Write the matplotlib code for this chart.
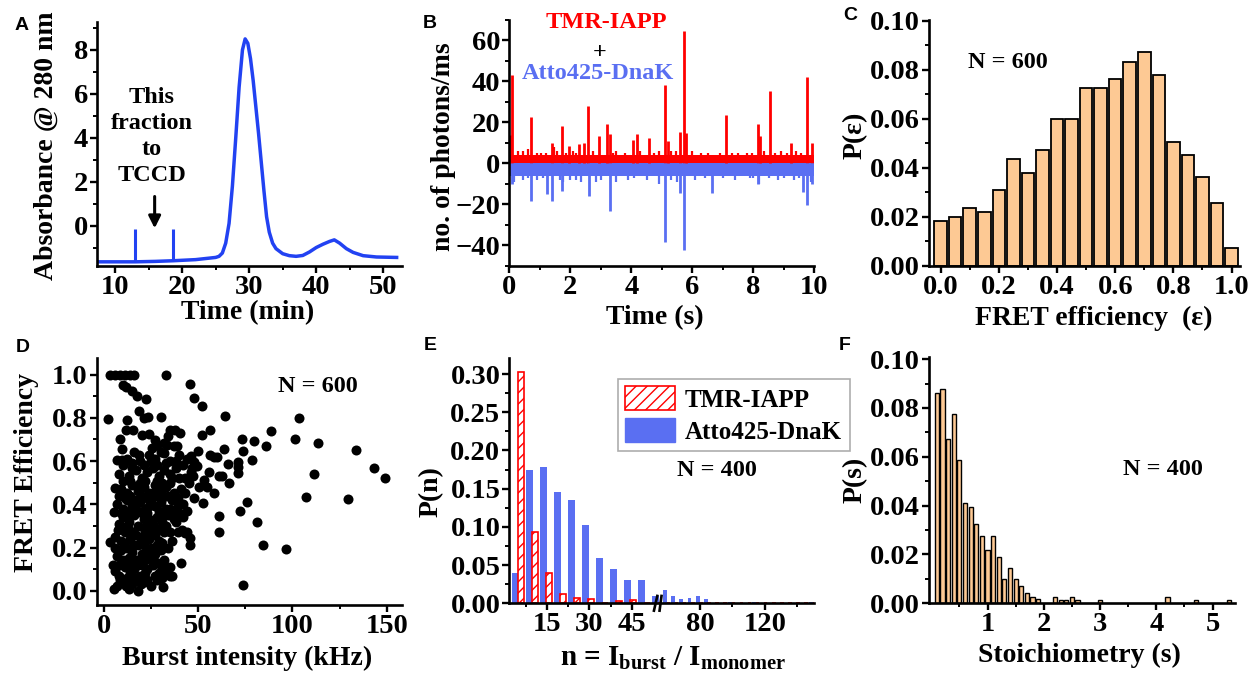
import numpy as np
import matplotlib
matplotlib.use('Agg')
import matplotlib.pyplot as plt
from matplotlib.ticker import MultipleLocator, FixedLocator
from matplotlib.patches import Patch

plt.rcParams['font.family'] = 'Liberation Serif'
plt.rcParams['font.weight'] = 'bold'
plt.rcParams['mathtext.fontset'] = 'custom'
plt.rcParams['mathtext.rm'] = 'Liberation Serif:bold'
plt.rcParams['mathtext.it'] = 'Liberation Serif:bold'
plt.rcParams['hatch.linewidth'] = 1.0

W, H = 1248, 678
BLUE_A = '#2242f2'
BLUE = '#5a6ff2'
PEACH = '#fdc994'

# ---- A: size exclusion chromatogram
sec_time = [7.5, 10, 13, 16, 18.7, 22, 25, 25.5, 26, 26.5, 27, 27.5, 28, 28.5, 29, 29.4,
            29.8, 30.2, 30.6, 31, 31.4, 31.8, 32.2, 32.6, 33, 33.5, 34, 35, 36, 37, 38,
            39, 40, 41, 42, 42.7, 43.5, 44.5, 45.5, 47, 49, 52]
sec_abs = [-1.65, -1.65, -1.65, -1.63, -1.6, -1.55, -1.45, -1.4, -1.25, -0.8, 0.1, 1.8, 4.0,
           6.3, 8.0, 8.5, 8.3, 7.6, 6.6, 5.4, 4.2, 2.9, 1.6, 0.4, -0.3, -0.8, -1.05, -1.28,
           -1.37, -1.4, -1.36, -1.2, -1.0, -0.85, -0.72, -0.65, -0.8, -1.05, -1.22, -1.37,
           -1.43, -1.45]
fraction_marks = [13.0, 18.7]
fraction_top = -0.15

# ---- B: photon bursts (big spikes + smaller noise spikes)
tmr_t = [0.09, 0.05, 0.71, 1.39, 1.72, 1.97, 2.30, 2.46, 2.59, 2.95, 3.20, 3.31, 4.04, 4.19,
         4.58, 5.11, 5.19, 5.59, 5.72, 5.80, 7.09, 8.14, 8.22, 8.54, 9.25, 9.76, 9.91]
tmr_n = [43, 14, 22.4, 10, 18.3, 8.5, 9.5, 10, 28, 13.4, 19.3, 14.2, 11.3, 14.2,
         12.3, 38.2, 11, 15.2, 64.4, 15, 23.4, 19.3, 13.4, 35.3, 10, 42.2, 10]
tmr_small_t = [0.3, 0.45, 0.6, 0.9, 1.05, 1.2, 1.45, 1.55, 1.85, 2.1, 2.2, 2.75, 3.4, 3.5, 3.8,
               4.3, 4.75, 4.9, 5.3, 5.45, 6.0, 6.3, 6.5, 6.9, 7.3, 7.5, 7.8, 7.95, 8.35, 8.7,
               8.9, 9.1, 9.4, 9.55]
tmr_small_n = [6, 6, 7, 5, 5, 5, 8, 6, 5, 6, 5, 6, 5, 6, 5, 6, 5, 6, 6, 6, 6, 5, 5, 5, 5, 5,
               5, 5, 6, 5, 6, 5, 6, 5]
atto_t = [0.09, 0.71, 1.23, 1.39, 1.72, 2.60, 3.31, 5.11, 5.59, 5.72, 6.66, 8.14, 9.64, 9.76, 9.91]
atto_n = [-10, -18.4, -15, -18.4, -13.5, -16, -23.3, -38.5, -14.3, -42.3, -14.6, -10, -13.8,
          -20.3, -10]
atto_small_t = [0.15, 0.45, 0.6, 0.9, 1.1, 1.65, 1.75, 2.0, 2.2, 2.35, 2.85, 3.0, 3.5, 3.9, 4.1,
                4.5, 4.9, 5.3, 5.5, 6.1, 6.4, 7.0, 7.4, 7.9, 8.0, 8.2, 8.5, 8.8, 9.0, 9.35,
                9.5, 9.9]
atto_small_n = [-9, -8, -7, -8, -7, -8, -9, -8, -8, -9, -9, -8, -9, -8, -7, -8, -10, -8, -9, -8,
                -7, -7, -8, -7, -7, -10, -7, -8, -7, -8, -7, -9]
band_t = [0, 10]
tmr_band = 4
atto_band = -6

# ---- C: FRET efficiency histogram
eff_bins = [0.00, 0.05, 0.10, 0.15, 0.20, 0.25, 0.30, 0.35, 0.40, 0.45, 0.50,
            0.55, 0.60, 0.65, 0.70, 0.75, 0.80, 0.85, 0.90, 0.95, 1.00]
p_eff = [0.0182, 0.0199, 0.0235, 0.0218, 0.0308, 0.0434, 0.0380, 0.0471, 0.0598, 0.0598,
         0.0725, 0.0725, 0.0763, 0.0833, 0.0871, 0.0777, 0.0507, 0.0453, 0.0362, 0.0255,
         0.0073]

# ---- D: FRET efficiency vs burst intensity (kHz, E)
burst_points = [
    (2.3, 0.795), (3.2, 1.0), (5.9, 1.0), (8.5, 1.0), (11.2, 1.0), (13.8, 1.0), (16.1, 1.0),
    (32.8, 1.0), (45.4, 0.958), (48.0, 0.892), (51.9, 0.856), (64.2, 0.81), (30.3, 0.802),
    (22.2, 0.889), (17.4, 0.9), (10.0, 0.954), (11.7, 0.943), (14.7, 0.923), (18.8, 0.833),
    (21.3, 0.80), (23.2, 0.804), (8.5, 0.70), (9.4, 0.657), (12.1, 0.79), (11.5, 0.745),
    (15.6, 0.745), (20.0, 0.719), (23.9, 0.726), (7.1, 0.606), (9.6, 0.606), (14.7, 0.59),
    (18.3, 0.63), (5.9, 0.475), (5.3, 0.366), (3.2, 0.224), (5.5, 0.008), (31.2, 0.015),
    (73.8, 0.026), (41.0, 0.127), (34.8, 0.07), (32.4, 0.111), (45.4, 0.212), (60.8, 0.274),
    (61.2, 0.346), (45.4, 0.243), (72.0, 0.369), (75.9, 0.41), (81.2, 0.317), (84.4, 0.212),
    (96.8, 0.192), (107.3, 0.436), (129.6, 0.423), (111.3, 0.541), (143.3, 0.57),
    (148.9, 0.524), (134.0, 0.652), (113.5, 0.683), (101.2, 0.702), (103.5, 0.80),
    (88.8, 0.74), (86.0, 0.668), (79.8, 0.694), (78.5, 0.606), (73.8, 0.648), (73.2, 0.703),
    (71.1, 0.598), (70.9, 0.547), (71.3, 0.572), (66.1, 0.498), (63.8, 0.658), (65.8, 0.587),
    (58.2, 0.451), (52.5, 0.405), (61.2, 0.529), (62.6, 0.529), (56.0, 0.629), (58.2, 0.621),
    (59.9, 0.617), (52.8, 0.513), (50.5, 0.478), (47.2, 0.529), (47.5, 0.428), (54.6, 0.482),
    (55.5, 0.549), (52.0, 0.722), (56.4, 0.742), (49.8, 0.648), (46.3, 0.624), (47.5, 0.598),
    (49.3, 0.575), (46.6, 0.567), (40.4, 0.73), (37.8, 0.745), (35.1, 0.745), (34.2, 0.714),
    (36.9, 0.668), (38.7, 0.668), (33.3, 0.675), (31.6, 0.683), (28.0, 0.675), (26.8, 0.698),
    (25.4, 0.66), (31.6, 0.637),
    (7, 0.02), (10, 0.04), (13, 0.01), (15, 0.03), (18, 0.0), (21, 0.04), (25, 0.02), (28, 0.05),
    (6, 0.09), (8, 0.07), (11, 0.11), (14, 0.08), (16, 0.10), (19, 0.07), (23, 0.10), (26, 0.12),
    (29, 0.08), (33, 0.09), (36, 0.07), (7, 0.16), (9, 0.19), (13, 0.15), (15, 0.18), (17, 0.14),
    (20, 0.17), (24, 0.15), (25, 0.20), (27, 0.17), (30, 0.19), (6, 0.25), (9, 0.23), (11, 0.27),
    (14, 0.24), (17, 0.26), (19, 0.22), (22, 0.27), (24, 0.24), (27, 0.26), (29, 0.23), (32, 0.27),
    (8, 0.31), (10, 0.34), (13, 0.32), (16, 0.35), (18, 0.30), (21, 0.33), (23, 0.36), (26, 0.31),
    (28, 0.34), (31, 0.32), (34, 0.35), (37, 0.33), (40, 0.36), (7, 0.40), (10, 0.38), (12, 0.42),
    (15, 0.39), (19, 0.41), (22, 0.38), (25, 0.42), (27, 0.39), (30, 0.41), (33, 0.38), (36, 0.42),
    (39, 0.39), (42, 0.40), (44, 0.37), (9, 0.47), (12, 0.45), (15, 0.49), (18, 0.46), (21, 0.48),
    (24, 0.45), (27, 0.49), (30, 0.46), (33, 0.48), (37, 0.45), (41, 0.47), (45, 0.50), (8, 0.54),
    (13, 0.53), (17, 0.56), (20, 0.52), (23, 0.55), (26, 0.57), (29, 0.53), (32, 0.56), (35, 0.54),
    (38, 0.57), (43, 0.52), (46, 0.55), (12, 0.61), (16, 0.64), (19, 0.60), (24, 0.63), (27, 0.61),
    (30, 0.64), (35, 0.60), (40, 0.63), (44, 0.61), (5, 0.12), (12, 0.06), (17, 0.05), (20, 0.12),
    (22, 0.08), (9, 0.30), (12, 0.20), (18, 0.21), (21, 0.29), (24, 0.33), (28, 0.28), (30, 0.12),
    (26, 0.45), (35, 0.50), (39, 0.27), (41.3, 0.28), (43.1, 0.266), (38, 0.32), (36, 0.23),
    (44, 0.27),
    (8.5, 0.05), (11.5, 0.02), (16.5, 0.06), (19.5, 0.03), (23, 0.05), (27, 0.07), (30.5, 0.06),
    (8, 0.12), (10, 0.14), (14.5, 0.12), (18, 0.12), (21.5, 0.14), (26, 0.15), (28.5, 0.13),
    (32, 0.14), (35, 0.11), (6, 0.20), (10.5, 0.22), (16, 0.21), (21, 0.21), (23, 0.19),
    (28, 0.21), (31, 0.22), (34, 0.20), (7.5, 0.28), (12.5, 0.29), (15, 0.27), (20, 0.25),
    (23, 0.30), (26, 0.27), (30, 0.29), (33, 0.30), (35, 0.27), (9, 0.36), (11.5, 0.35),
    (14, 0.37), (17, 0.38), (20, 0.36), (24, 0.39), (29, 0.37), (32, 0.35), (35, 0.38),
    (38, 0.37), (42, 0.34), (8, 0.44), (11, 0.43), (14, 0.44), (17, 0.42), (20, 0.44),
    (23, 0.43), (28, 0.44), (31, 0.43), (34, 0.44), (39, 0.43), (43, 0.45), (10, 0.51),
    (14, 0.51), (19, 0.50), (22, 0.51), (28, 0.51), (31, 0.50), (36, 0.52), (40, 0.52),
    (10, 0.58), (15, 0.57), (21, 0.58), (25, 0.60), (28, 0.58), (33, 0.59), (38, 0.60),
    (42, 0.58),
]

# ---- E: oligomer size distribution
n_bins = [5, 10, 15, 20, 25, 30, 35, 40, 45, 50, 55, 60, 65, 70, 75, 80, 85, 90, 95, 100,
          105, 110, 115, 120, 125, 130, 135, 140, 145, 150]
p_tmr = [0.303, 0.093, 0.039, 0.012, 0.007, 0.006, 0, 0.003, 0.004, 0, 0, 0, 0, 0, 0, 0.001,
         0, 0, 0, 0, 0, 0, 0, 0, 0, 0, 0, 0, 0, 0]
p_atto = [0.039, 0.175, 0.179, 0.146, 0.135, 0.103, 0.059, 0.045, 0.031, 0.031, 0.010, 0.017,
          0.010, 0.005, 0.007, 0.010, 0.005, 0, 0, 0.002, 0, 0, 0.002, 0, 0, 0, 0, 0, 0, 0.002]
n_break = 55
right_squeeze = 0.578

# ---- F: stoichiometry histogram
stoich = [0.1, 0.2, 0.3, 0.4, 0.5, 0.6, 0.7, 0.8, 0.9, 1.0, 1.1, 1.2, 1.3, 1.4, 1.5, 1.6, 1.7,
          1.8, 1.9, 2.2, 2.3, 2.4, 2.5, 2.6, 3.0, 4.2, 4.7, 5.3]
p_stoich = [0.0862, 0.0878, 0.0673, 0.0777, 0.0588, 0.0410, 0.0396, 0.0324, 0.0277, 0.0220,
            0.0277, 0.0189, 0.0101, 0.0146, 0.0101, 0.0072, 0.0043, 0.0027, 0.0016, 0.0027,
            0.0014, 0.0014, 0.0027, 0.0014, 0.0014, 0.0027, 0.0014, 0.0014]

LABEL = 20
TICK = 20.5
NOTE = 17.5


def box(l, t, r, b):
    return [l / W, 1 - b / H, (r - l) / W, (b - t) / H]


def ftext(x, y, s, **kw):
    fig.text(x / W, 1 - y / H, s, ha='center', va='center', **kw)


def style(ax):
    for s in ['top', 'right']:
        ax.spines[s].set_visible(False)
    for s in ['left', 'bottom']:
        ax.spines[s].set_linewidth(1.9)
    ax.tick_params(which='major', direction='out', length=5, width=1.7, labelsize=TICK, pad=1.5)
    ax.tick_params(which='minor', direction='out', length=3, width=1.4)


fig = plt.figure(figsize=(W / 100, H / 100), dpi=100)

# A
ax = fig.add_axes(box(97, 22, 402, 266))
style(ax)
ax.plot(sec_time, sec_abs, color=BLUE_A, lw=2.5, solid_joinstyle='round')
ax.vlines(fraction_marks, [-1.65, -1.6], fraction_top, color=BLUE_A, lw=2.2)
ax.annotate('', xy=(15.9, -0.25), xytext=(15.9, 1.45),
            arrowprops=dict(arrowstyle='-|>', color='black', lw=2.2, mutation_scale=18))
ax.text(15.5, 4.06, 'This\nfraction\nto\nTCCD', ha='center', va='center', fontsize=NOTE,
        linespacing=1.3)
ax.set_xlim(7.3, 52.8)
ax.set_ylim(-1.84, 9.27)
ax.xaxis.set_major_locator(MultipleLocator(10))
ax.xaxis.set_minor_locator(MultipleLocator(5))
ax.yaxis.set_major_locator(FixedLocator([0, 2, 4, 6, 8]))
ax.yaxis.set_minor_locator(FixedLocator([-1, 1, 3, 5, 7, 9]))

# B
ax = fig.add_axes(box(509.3, 20, 814.3, 265.7))
style(ax)
ax.fill_between(band_t, 0, tmr_band, color='red', lw=0)
ax.fill_between(band_t, atto_band, 0, color=BLUE, lw=0)
ax.vlines(tmr_small_t, 0, tmr_small_n, color='red', lw=1.6)
ax.vlines(atto_small_t, atto_small_n, 0, color=BLUE, lw=1.6)
ax.vlines(tmr_t, 0, tmr_n, color='red', lw=2.0)
ax.vlines(atto_t, atto_n, 0, color=BLUE, lw=2.0)
ax.set_xlim(0, 10)
ax.set_ylim(-50, 70)
ax.xaxis.set_major_locator(MultipleLocator(2))
ax.xaxis.set_minor_locator(MultipleLocator(1))
ax.yaxis.set_major_locator(FixedLocator([-40, -20, 0, 20, 40, 60]))
ax.yaxis.set_minor_locator(FixedLocator([-50, -30, -10, 10, 30, 50, 70]))
ax.text(0.319, 0.988, 'TMR-IAPP', transform=ax.transAxes, ha='center', va='center',
        color='red', fontsize=NOTE)
ax.text(0.297, 0.866, '+', transform=ax.transAxes, ha='center', va='center', fontsize=NOTE)
ax.text(0.291, 0.784, 'Atto425-DnaK', transform=ax.transAxes, ha='center', va='center',
        color=BLUE, fontsize=NOTE)

# C
ax = fig.add_axes(box(929, 20, 1240, 265.7))
style(ax)
ax.bar(eff_bins, p_eff, width=0.043, color=PEACH, edgecolor='black', lw=1.3)
ax.set_xlim(-0.04, 1.029)
ax.set_ylim(0, 0.1003)
ax.xaxis.set_major_locator(MultipleLocator(0.2))
ax.xaxis.set_minor_locator(MultipleLocator(0.1))
ax.yaxis.set_major_locator(MultipleLocator(0.02))
ax.yaxis.set_minor_locator(MultipleLocator(0.01))
ax.xaxis.set_major_formatter(lambda v, p: f'{v:.1f}')
ax.yaxis.set_major_formatter(lambda v, p: f'{v:.2f}')
ax.text(0.254, 0.825, 'N = 600', transform=ax.transAxes, ha='center', va='center', fontsize=NOTE)

# D
ax = fig.add_axes(box(96.7, 358, 401.7, 605))
style(ax)
bx, by = zip(*burst_points)
ax.scatter(bx, by, s=52, color='black', lw=0)
ax.set_xlim(-3.9, 158)
ax.set_ylim(-0.066, 1.077)
ax.xaxis.set_major_locator(MultipleLocator(50))
ax.xaxis.set_minor_locator(MultipleLocator(25))
ax.yaxis.set_major_locator(MultipleLocator(0.2))
ax.yaxis.set_minor_locator(MultipleLocator(0.1))
ax.yaxis.set_major_formatter(lambda v, p: f'{v:.1f}')
ax.text(0.726, 0.883, 'N = 600', transform=ax.transAxes, ha='center', va='center', fontsize=NOTE)

# E (broken x axis via piecewise scale)
def fwd(x):
    x = np.asarray(x, dtype=float)
    return np.where(x <= n_break, x, n_break + (x - n_break) * right_squeeze)


def inv(y):
    y = np.asarray(y, dtype=float)
    return np.where(y <= n_break, y, n_break + (y - n_break) / right_squeeze)


ax = fig.add_axes(box(509.3, 358, 814.3, 603.3))
style(ax)
ax.set_xscale('function', functions=(fwd, inv))
nb = np.array(n_bins, dtype=float)
ax.bar(nb - 1.5, p_atto, width=2.4, color=BLUE, lw=0)
ax.bar(nb + 0.5, p_tmr, width=2.2, facecolor='white', edgecolor='red', hatch='///', lw=1.2)
ax.set_xlim(1.4, 150.5)
ax.set_ylim(0, 0.321)
ax.xaxis.set_major_locator(FixedLocator([15, 30, 45, 80, 120]))
ax.xaxis.set_minor_locator(FixedLocator([7.5, 22.5, 37.5, 100, 140]))
ax.xaxis.set_major_formatter(lambda v, p: f'{v:.0f}')
ax.xaxis.set_minor_formatter(lambda v, p: '')
ax.yaxis.set_major_locator(MultipleLocator(0.05))
ax.yaxis.set_minor_locator(MultipleLocator(0.025))
ax.yaxis.set_major_formatter(lambda v, p: f'{v:.2f}')
tr = ax.get_xaxis_transform()
for xb in [53.6, 55.6]:
    ax.plot([xb - 0.6, xb + 0.6], [-0.03, 0.03], transform=tr, color='black', lw=1.9,
            clip_on=False)
leg = ax.legend(handles=[Patch(facecolor='white', edgecolor='red', hatch='///', lw=1.2),
                         Patch(facecolor=BLUE, edgecolor=BLUE)],
                labels=['TMR-IAPP', 'Atto425-DnaK'], loc='upper left',
                bbox_to_anchor=(0.355, 0.915), fontsize=18, frameon=True, fancybox=False,
                edgecolor='#999999', handlelength=2.0, handleheight=1.1, borderpad=0.3,
                labelspacing=0.25, handletextpad=0.4, borderaxespad=0)
leg.get_frame().set_linewidth(1.2)
ax.text(0.681, 0.543, 'N = 400', transform=ax.transAxes, ha='center', va='center', fontsize=NOTE)

# F
ax = fig.add_axes(box(929, 356.7, 1235, 603.3))
style(ax)
ax.bar(stoich, p_stoich, width=0.075, color=PEACH, edgecolor='black', lw=1.0)
ax.set_xlim(-0.04, 5.4)
ax.set_ylim(0, 0.101)
ax.xaxis.set_major_locator(FixedLocator([1, 2, 3, 4, 5]))
ax.xaxis.set_minor_locator(FixedLocator([0.5, 1.5, 2.5, 3.5, 4.5]))
ax.yaxis.set_major_locator(MultipleLocator(0.02))
ax.yaxis.set_minor_locator(MultipleLocator(0.01))
ax.yaxis.set_major_formatter(lambda v, p: f'{v:.2f}')
ax.text(0.765, 0.543, 'N = 400', transform=ax.transAxes, ha='center', va='center', fontsize=NOTE)

# axis labels
ftext(46, 146, 'Absorbance @ 280 nm', rotation=90, fontsize=LABEL)
ftext(248, 313, 'Time (min)', fontsize=LABEL)
ftext(444, 147, 'no. of photons/ms', rotation=90, fontsize=LABEL)
ftext(655, 318, 'Time (s)', fontsize=LABEL)
ftext(855, 135, 'P(ε)', rotation=90, fontsize=LABEL)
ftext(1094, 318, 'FRET efficiency  (ε)', fontsize=LABEL)
ftext(27, 473, 'FRET Efficiency', rotation=90, fontsize=LABEL)
ftext(247, 658, 'Burst intensity (kHz)', fontsize=LABEL)
ftext(431, 492, 'P(n)', rotation=90, fontsize=LABEL)
ftext(673, 658, r'n = I$_{\mathrm{burst}}$ / I$_{\mathrm{monomer}}$', fontsize=LABEL + 1)
ftext(855, 480, 'P(s)', rotation=90, fontsize=LABEL)
ftext(1079, 655, 'Stoichiometry (s)', fontsize=LABEL)

# panel letters
for lx, ly, lt in [(22, 25, 'A'), (430, 23, 'B'), (850, 16, 'C'),
                   (23, 347, 'D'), (430, 345, 'E'), (845, 345, 'F')]:
    ftext(lx, ly, lt, fontsize=14, family='Liberation Sans', weight='bold')

fig.savefig('out.png', dpi=100)
